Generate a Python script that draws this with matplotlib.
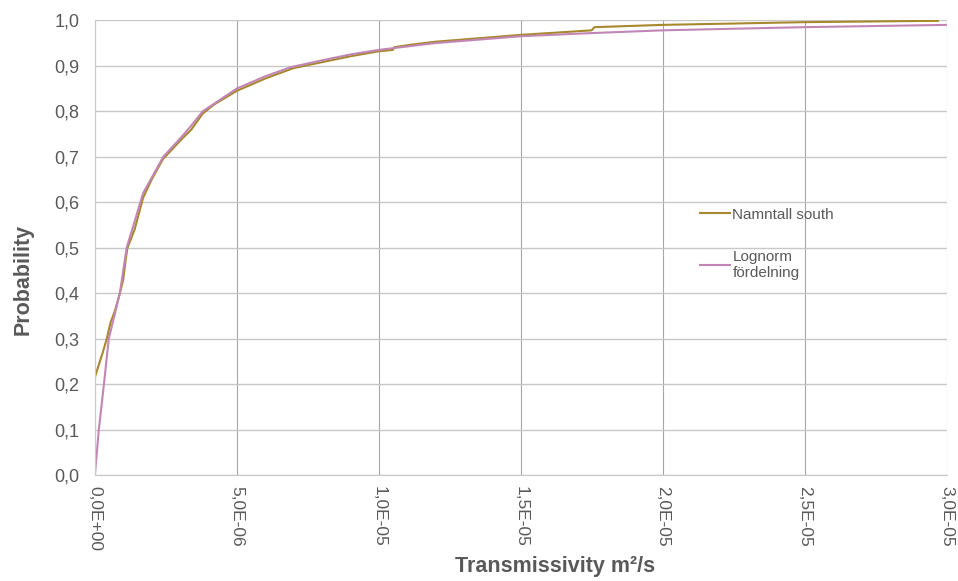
import matplotlib
matplotlib.use('Agg')
import matplotlib.pyplot as plt
from matplotlib.ticker import FuncFormatter, MultipleLocator

plt.rcParams['font.family'] = ['Liberation Sans', 'DejaVu Sans']

# Empirical distribution "Namntall south" (transmissivity in 1e-6 m2/s, probability)
namntall_x = [0.0, 0.0, 0.1, 0.28, 0.42, 0.55, 0.7, 0.88, 1.0, 1.1, 1.15, 1.4, 1.7, 2.0,
              2.4, 3.0, 3.4, 3.8, 4.2, 5.0, 6.0, 7.0, 8.0, 9.0, 10.0, 10.5, 10.55, 11.2,
              12.0, 13.0, 15.0, 17.5, 17.6, 20.0, 25.0, 29.7]
namntall_y = [0.0, 0.215, 0.235, 0.27, 0.30, 0.335, 0.36, 0.40, 0.43, 0.48, 0.50, 0.54,
              0.61, 0.65, 0.695, 0.735, 0.76, 0.795, 0.815, 0.845, 0.872, 0.895, 0.908,
              0.921, 0.932, 0.935, 0.941, 0.947, 0.953, 0.958, 0.968, 0.978, 0.985,
              0.990, 0.996, 0.999]

# Fitted lognormal CDF
lognorm_x = [0.0, 0.14, 0.32, 0.49, 0.88, 1.12, 1.7, 2.41, 3.0, 3.35, 3.8, 5.0, 6.0, 6.9,
             8.0, 9.0, 10.0, 12.0, 15.0, 17.5, 20.0, 25.0, 30.0]
lognorm_y = [0.0, 0.10, 0.20, 0.30, 0.40, 0.50, 0.62, 0.70, 0.74, 0.765, 0.80, 0.85,
             0.877, 0.897, 0.912, 0.925, 0.935, 0.950, 0.965, 0.972, 0.978, 0.985, 0.990]

x_scale = 1e-6
text_grey = '#595959'

fig, ax = plt.subplots(figsize=(9.58, 5.81), dpi=100)
fig.subplots_adjust(left=0.099, right=0.988, top=0.965, bottom=0.182)

ax.plot([v * x_scale for v in namntall_x], namntall_y, color='#A8882C', lw=1.5,
        label='Namntall south')
ax.plot([v * x_scale for v in lognorm_x], lognorm_y, color='#C286B6', lw=1.5,
        label='Lognorm\nfördelning')

ax.set_xlim(0, 3e-5)
ax.set_ylim(0, 1.0)
ax.xaxis.set_major_locator(MultipleLocator(5e-6))
ax.yaxis.set_major_locator(MultipleLocator(0.1))


def xfmt(v, pos):
    s = '%.1E' % v
    mant, exp = s.split('E')
    return '%sE%s%02d' % (mant.replace('.', ','), exp[0], abs(int(exp)))


ax.xaxis.set_major_formatter(FuncFormatter(xfmt))
ax.yaxis.set_major_formatter(FuncFormatter(lambda v, p: ('%.1f' % v).replace('.', ',')))

ax.tick_params(axis='both', length=0, colors=text_grey)
ax.tick_params(axis='y', labelsize=13, pad=11)
ax.tick_params(axis='x', labelsize=12.5, pad=8, labelrotation=270)

ax.grid(axis='y', color='#c8c8c8', lw=1)
ax.grid(axis='x', color='#a6a6a6', lw=0.8)
ax.set_axisbelow(True)
for side in ['top', 'right']:
    ax.spines[side].set_visible(False)
ax.spines['left'].set_color('#c8c8c8')
ax.spines['bottom'].set_color('#c8c8c8')

ax.set_xlabel('Transmissivity m²/s', fontsize=15.5, fontweight='bold', color=text_grey)
ax.xaxis.set_label_coords(0.54, -0.178)
ax.xaxis.label.set_va('top')
ax.set_ylabel('Probability', fontsize=15.5, fontweight='bold', color=text_grey)
ax.yaxis.set_label_coords(-0.072, 0.43)

leg = ax.legend(loc='upper left', bbox_to_anchor=(0.71, 0.588), frameon=False,
                fontsize=11, handlelength=2.0, handletextpad=0.15, labelspacing=1.85,
                borderpad=0, borderaxespad=0)
for t in leg.get_texts():
    t.set_color(text_grey)

fig.savefig('out.png', dpi=100)
